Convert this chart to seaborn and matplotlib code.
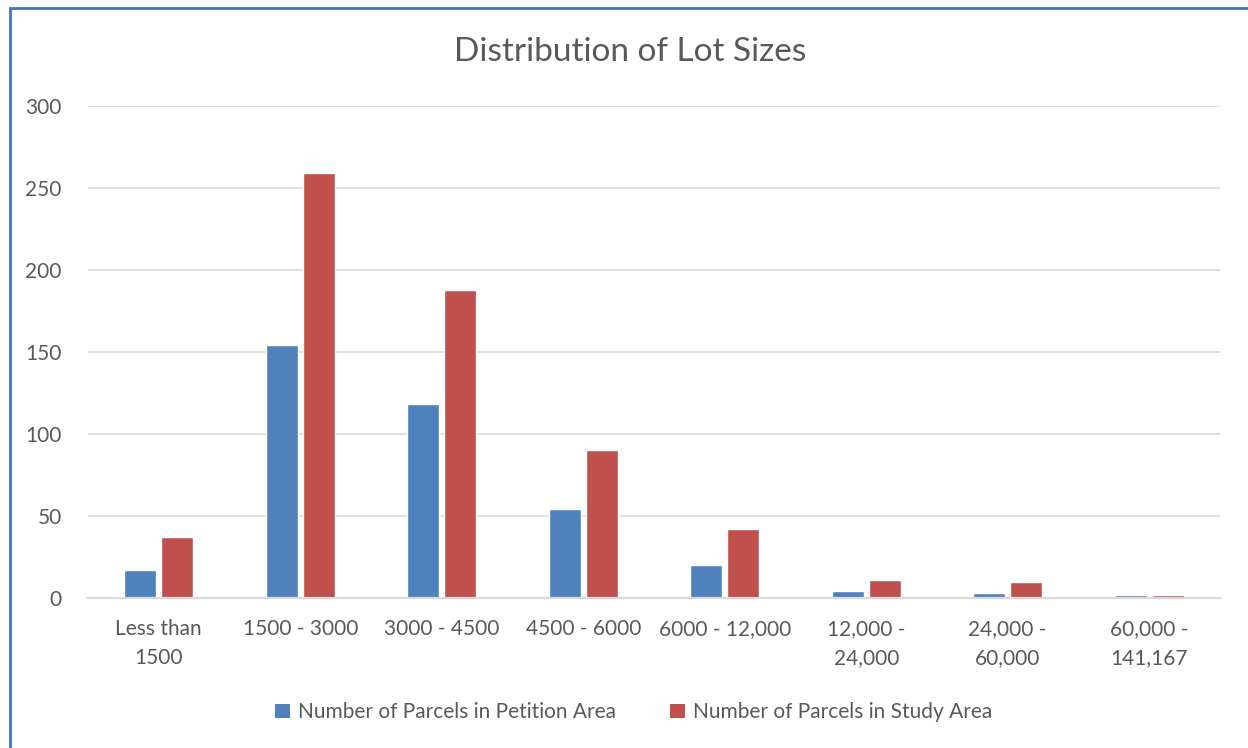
import pandas as pd
import matplotlib.pyplot as plt
import seaborn as sns
from matplotlib.patches import Rectangle, Patch

# data
categories = ["Less than\n1500", "1500 - 3000", "3000 - 4500", "4500 - 6000",
              "6000 - 12,000", "12,000 -\n24,000", "24,000 -\n60,000", "60,000 -\n141,167"]
petition = [17, 154, 118, 54, 20, 4, 3, 2]
study = [37, 259, 188, 90, 42, 11, 10, 2]
series = ["Number of Parcels in Petition Area", "Number of Parcels in Study Area"]
colors = ["#4F81BD", "#C0504D"]

df = pd.DataFrame({
    "cat": categories * 2,
    "value": petition + study,
    "series": [series[0]] * len(categories) + [series[1]] * len(categories),
})

sns.set_style("white")
plt.rcParams["font.family"] = ["Lato", "DejaVu Sans"]

fig = plt.figure(figsize=(12.48, 7.48), dpi=100)
ax = fig.add_axes([0.0705, 0.2005, 0.907, 0.6578])

sns.barplot(data=df, x="cat", y="value", hue="series", palette=colors,
            width=0.52, gap=0.13, saturation=1, ax=ax, legend=False)

ax.set_ylim(0, 300)
ax.set_yticks(range(0, 301, 50))
ax.set_xlim(-0.5, len(categories) - 0.5)
ax.yaxis.grid(True, color="#D9D9D9", lw=1.2)
ax.set_axisbelow(True)
for s in ["top", "right", "left"]:
    ax.spines[s].set_visible(False)
ax.spines["bottom"].set_color("#D9D9D9")
ax.spines["bottom"].set_linewidth(1.6)
ax.tick_params(axis="both", length=0, labelsize=15, labelcolor="#595959")
ax.tick_params(axis="y", pad=19)
ax.tick_params(axis="x", pad=15)
for lbl in ax.get_xticklabels():
    lbl.set_linespacing(1.55)
ax.set_xlabel("")
ax.set_ylabel("")

fig.text(0.505, 0.93, "Distribution of Lot Sizes", ha="center", va="center",
         fontsize=24, color="#595959")

handles = [Patch(facecolor=c, edgecolor="none") for c in colors]
fig.legend(handles, series, loc="center", bbox_to_anchor=(0.508, 0.048), ncol=2,
           frameon=False, fontsize=15, labelcolor="#595959",
           handlelength=0.7, handleheight=0.7, handletextpad=0.4, columnspacing=2.6)

# outer chart frame
fig.patches.append(Rectangle((10 / 1248, -0.02), 1.0, 1 - 8 / 748 + 0.02,
                             transform=fig.transFigure, fill=False,
                             edgecolor="#4472C4", lw=2))

plt.savefig("out.png", dpi=100)
